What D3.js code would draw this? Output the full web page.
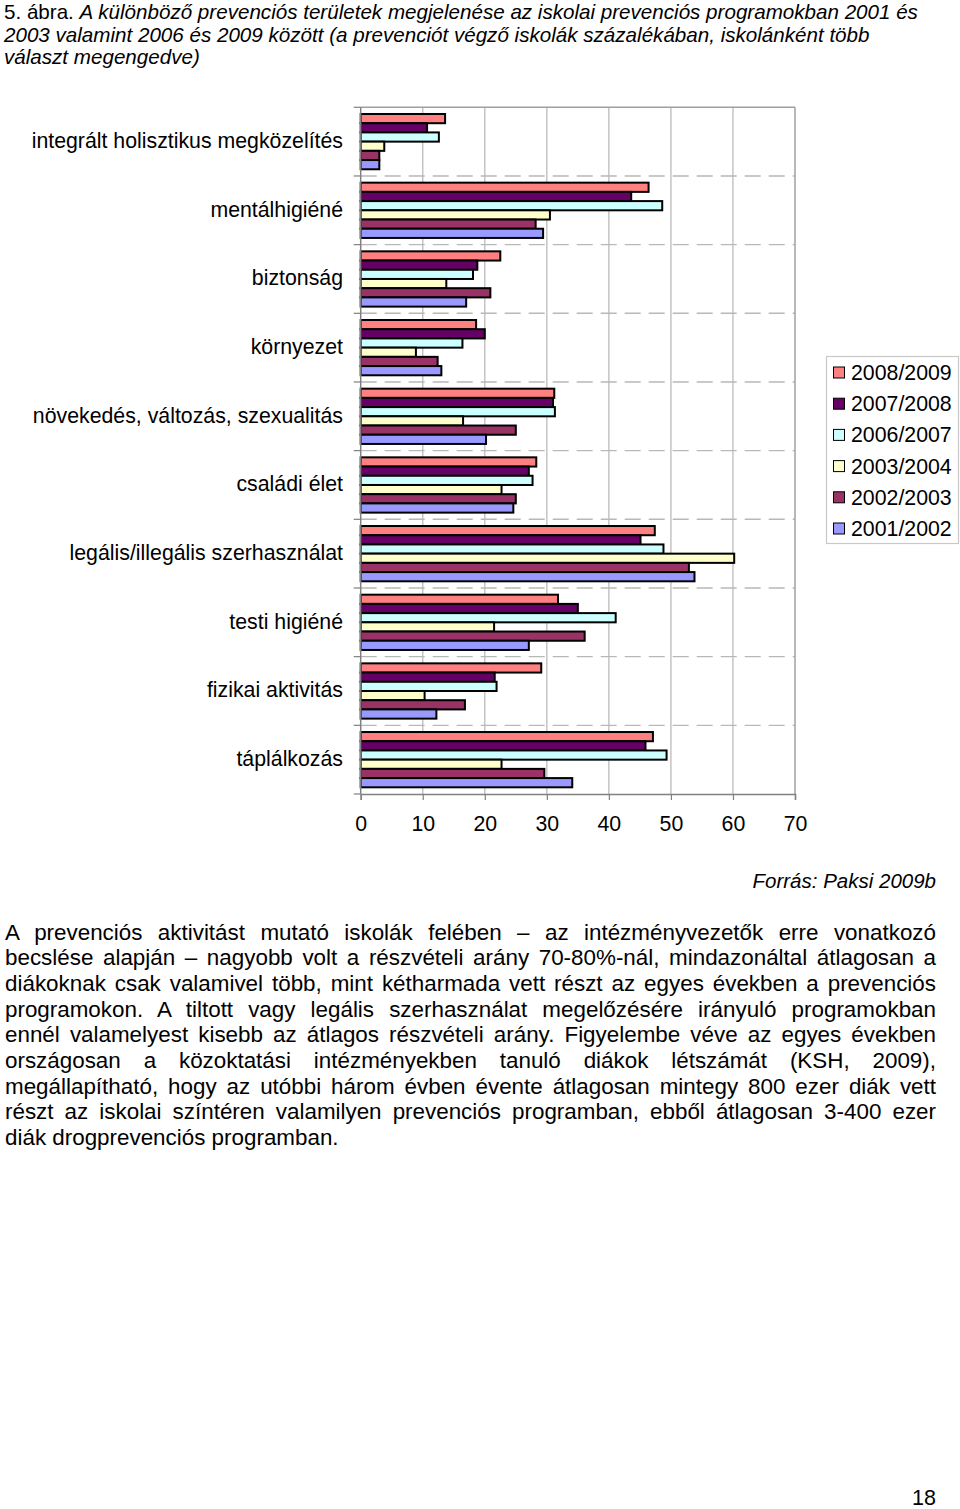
<!DOCTYPE html>
<html><head><meta charset="utf-8">
<script src="https://cdn.jsdelivr.net/npm/d3@7"></script>
<style>
html,body{margin:0;padding:0;background:#fff;}
svg text{font-family:Arial,"Liberation Sans",sans-serif;fill:#000;}
</style></head>
<body>
<svg id="chart" width="960" height="1509"></svg>
<script>
// ---- data ----
const categories = ["integrált holisztikus megközelítés","mentálhigiéné","biztonság","környezet","növekedés, változás, szexualitás","családi élet","legális/illegális szerhasználat","testi higiéné","fizikai aktivitás","táplálkozás"];
const seriesNames = ["2008/2009","2007/2008","2006/2007","2003/2004","2002/2003","2001/2002"];
const s2008 = [13.6,46.4,22.5,18.6,31.2,28.3,47.4,31.8,29.1,47.1];
const s2007 = [10.7,43.6,18.8,20.0,31.0,27.1,45.1,35.0,21.6,45.9];
const s2006 = [12.6,48.6,18.1,16.4,31.3,27.7,48.8,41.1,21.9,49.3];
const s2003 = [3.8,30.5,13.8,8.9,16.5,22.7,60.2,21.5,10.3,22.7];
const s2002 = [3.0,28.2,20.9,12.4,25.0,25.0,52.9,36.1,16.8,29.6];
const s2001 = [3.0,29.4,17.0,13.0,20.2,24.6,53.8,27.1,12.2,34.1];
const seriesColors = ["#FF8080","#660066","#CCFFFF","#FFFFCC","#993366","#9999FF"];
const xTicks = [0,10,20,30,40,50,60,70];
const allSeries = [s2008,s2007,s2006,s2003,s2002,s2001];

const titleLines = [
  ["5. ábra. ","A különböző prevenciós területek megjelenése az iskolai prevenciós programokban 2001 és"],
  ["","2003 valamint 2006 és 2009 között (a prevenciót végző iskolák százalékában, iskolánként több"],
  ["","választ megengedve)"]
];
const paraLines = [
  "A prevenciós aktivitást mutató iskolák felében – az intézményvezetők erre vonatkozó",
  "becslése alapján – nagyobb volt a részvételi arány 70-80%-nál, mindazonáltal átlagosan a",
  "diákoknak csak valamivel több, mint kétharmada vett részt az egyes években a prevenciós",
  "programokon. A tiltott vagy legális szerhasználat megelőzésére irányuló programokban",
  "ennél valamelyest kisebb az átlagos részvételi arány. Figyelembe véve az egyes években",
  "országosan a közoktatási intézményekben tanuló diákok létszámát (KSH, 2009),",
  "megállapítható, hogy az utóbbi három évben évente átlagosan mintegy 800 ezer diák vett",
  "részt az iskolai színtéren valamilyen prevenciós programban, ebből átlagosan 3-400 ezer",
  "diák drogprevenciós programban."
];

const svg = d3.select("#chart");
svg.append("rect").attr("width",960).attr("height",1509).attr("fill","#fff");

// title
titleLines.forEach((l,i)=>{
  const t = svg.append("text").attr("x",4).attr("y",19+i*22.7).attr("font-size",20.6);
  if(l[0]) t.append("tspan").text(l[0]);
  t.append("tspan").attr("font-style","italic").text(l[1]);
});

// plot geometry
const plot = {left:360.7,right:795,top:107.3,bottom:794};
const x = d3.scaleLinear().domain([0,70]).range([plot.left,plot.right]);
const y = d3.scaleBand().domain(categories).range([plot.top,plot.bottom]).paddingInner(0.195).paddingOuter(0.0975);
const ySub = d3.scaleBand().domain(seriesNames).range([0,y.bandwidth()]);
const yOuter = d3.scaleBand().domain(categories).range([plot.top,plot.bottom]);

const g = svg.append("g");
// vertical gridlines
g.selectAll("line.vg").data(xTicks.slice(1,-1)).enter().append("line")
  .attr("x1",d=>x(d)).attr("x2",d=>x(d)).attr("y1",plot.top).attr("y2",plot.bottom)
  .attr("stroke","#c0c0c0").attr("stroke-width",1.4);
// horizontal dashed separators
g.selectAll("line.hg").data(categories.slice(1)).enter().append("line")
  .attr("x1",plot.left).attr("x2",plot.right).attr("y1",d=>yOuter(d)).attr("y2",d=>yOuter(d))
  .attr("stroke","#b8b8b8").attr("stroke-width",1.4).attr("stroke-dasharray","16,8");
// frame top/right
g.append("line").attr("x1",plot.left).attr("x2",plot.right).attr("y1",plot.top).attr("y2",plot.top).attr("stroke","#a0a0a0").attr("stroke-width",1.5);
g.append("line").attr("x1",plot.right).attr("x2",plot.right).attr("y1",plot.top).attr("y2",plot.bottom).attr("stroke","#a0a0a0").attr("stroke-width",1.5);

// bars
categories.forEach((c,ci)=>{
  seriesNames.forEach((s,si)=>{
    g.append("rect")
      .attr("x",x(0))
      .attr("y",y(c)+ySub(s))
      .attr("width",x(allSeries[si][ci])-x(0))
      .attr("height",ySub.bandwidth())
      .attr("fill",seriesColors[si]).attr("stroke","#000").attr("stroke-width",2);
  });
});

// x axis
const xAxis = d3.axisBottom(x).tickValues(xTicks).tickSize(6).tickPadding(16);
const xa = svg.append("g").attr("transform",`translate(0,${plot.bottom})`).call(xAxis);
xa.select(".domain").attr("stroke","#808080").attr("stroke-width",1.5);
xa.selectAll(".tick line").attr("stroke","#808080").attr("stroke-width",1.2);
xa.selectAll(".tick text").attr("font-size",21.3).attr("font-family","Arial,'Liberation Sans',sans-serif").attr("fill","#000");

// y axis (category ticks at boundaries)
const ya = svg.append("g").attr("transform",`translate(${plot.left},0)`);
ya.append("line").attr("x1",0).attr("x2",0).attr("y1",plot.top).attr("y2",plot.bottom).attr("stroke","#808080").attr("stroke-width",1.5);
ya.selectAll("line.t").data(categories.concat(["__end"])).enter().append("line")
  .attr("x1",-7).attr("x2",0)
  .attr("y1",(d,i)=> i<categories.length ? yOuter(d) : plot.bottom)
  .attr("y2",(d,i)=> i<categories.length ? yOuter(d) : plot.bottom)
  .attr("stroke","#808080").attr("stroke-width",1.2);
svg.selectAll("text.cat").data(categories).enter().append("text")
  .attr("x",343).attr("y",d=>yOuter(d)+yOuter.bandwidth()/2+6.5)
  .attr("text-anchor","end").attr("font-size",21.3).text(d=>d);

// legend
const lg = svg.append("g");
lg.append("rect").attr("x",826.5).attr("y",356.5).attr("width",132).attr("height",187)
  .attr("fill","#fff").attr("stroke","#c8c8c8").attr("stroke-width",1.2);
seriesNames.forEach((s,i)=>{
  const yy = 372.5 + i*31.2;
  lg.append("rect").attr("x",833.5).attr("y",yy-5.5).attr("width",11).attr("height",11)
    .attr("fill",seriesColors[i]).attr("stroke","#000").attr("stroke-width",1);
  lg.append("text").attr("x",851).attr("y",yy+7.5).attr("font-size",21.3).text(s);
});

// source
svg.append("text").attr("x",936).attr("y",888).attr("text-anchor","end").attr("font-size",20.5)
  .attr("font-style","italic").text("Forrás: Paksi 2009b");

// paragraph (justified)
paraLines.forEach((l,i)=>{
  const t = svg.append("text").attr("x",5).attr("y",939.5+i*25.7).attr("font-size",22.4).text(l);
  if(i<paraLines.length-1){
    const w = t.node().getComputedTextLength();
    const spaces = (l.match(/ /g)||[]).length;
    if(spaces>0) t.attr("word-spacing",Math.max(0,(936-5-w)/spaces));
  }
});

// page number
svg.append("text").attr("x",936).attr("y",1505).attr("text-anchor","end").attr("font-size",21.5).text("18");
</script>
</body></html>
